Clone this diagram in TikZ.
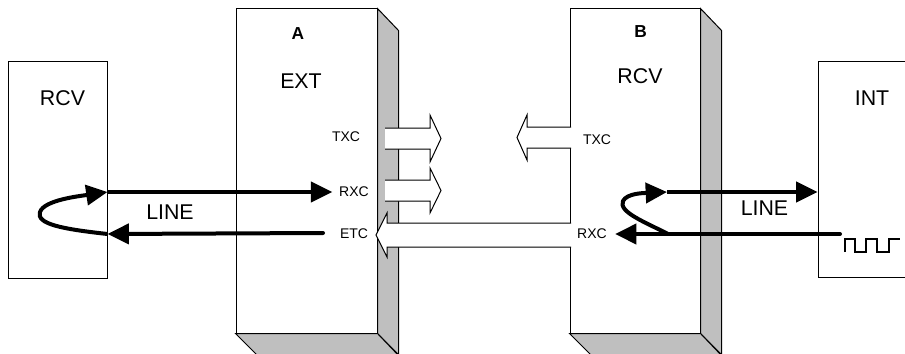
\documentclass[tikz,border=0pt]{standalone}
\usepackage{fontspec}
\setmainfont{Liberation Sans}
\usetikzlibrary{arrows.meta,positioning,calc}

\begin{document}
\begin{tikzpicture}[x=0.75pt, y=-0.75pt,
        block/.style={rectangle, draw, fill=white, line width=0.75pt, inner sep=0pt},
        face/.style={draw, fill=black!25, line width=0.75pt},
        wire/.style={line width=3pt, -{Triangle[length=16pt, width=15pt]}},
        hollow/.style={draw, fill=white, line width=0.75pt},
        big/.style={font=\fontsize{16}{19}\selectfont, inner sep=0pt},
        small/.style={font=\fontsize{10.5}{12}\selectfont, inner sep=0pt},
        unit/.style={font=\fontsize{13}{15}\selectfont\bfseries, inner sep=0pt}]

        \useasboundingbox (0,0) rectangle (905,353);
        \clip (0,0) rectangle (905,353);

        \node[block, minimum width=74.25pt, minimum height=162pt] (left) at (57.5,170) {};
        \node[block, minimum width=105.75pt, minimum height=243pt] (ext) at (306.5,171) {};
        \node[block, minimum width=97.5pt, minimum height=243pt] (rcv) at (635,171) {};
        \node[block, minimum width=87.75pt, minimum height=161.25pt] (int) at (876.5,169.5) {};

        \draw[face] (ext.north east) -- ++(21,22) -- ++(0,324) -- (ext.south east) -- cycle;
        \draw[face] (ext.south west) -- (ext.south east) -- ++(21,22) -- ++(-141,0) -- cycle;
        \draw[face] (rcv.north east) -- ++(21,22) -- ++(0,324) -- (rcv.south east) -- cycle;
        \draw[face] (rcv.south west) -- (rcv.south east) -- ++(21,22) -- ++(-130,0) -- cycle;

        \draw[hollow] (385,128) -- (430,128) -- (430,115) -- (441,138.5) -- (430,162) -- (430,149) -- (385,149);
        \draw[hollow] (385,180) -- (430,180) -- (430,168) -- (441,190.5) -- (430,213) -- (430,201) -- (385,201);
        \draw[hollow] (571,127) -- (527,127) -- (527,115) -- (517,137.5) -- (527,160) -- (527,148) -- (571,148);
        \draw[hollow] (571,223) -- (387,223) -- (387,213) -- (376,235) -- (387,257) -- (387,247) -- (571,247);

        \node[big] (rcvl) at (62.5,98) {RCV};
        \node[unit] (a) at (298,34) {A};
        \node[big] (extl) at (301,81) {EXT};
        \node[unit] (b) at (640.5,32) {B};
        \node[big] (rcvr) at (640,76) {RCV};
        \node[big] (intl) at (872,98) {INT};
        \node[small] (txca) at (346,137) {TXC};
        \node[small] (rxca) at (354,192) {RXC};
        \node[small] (etca) at (354,234) {ETC};
        \node[small] (txcb) at (597,140) {TXC};
        \node[small] (rxcb) at (592,234) {RXC};
        \node[big] (linel) at (170,212) {LINE};
        \node[big] (liner) at (764.5,208) {LINE};

        \coordinate (ltop) at (left.east |- rxca);
        \coordinate (lbot) at (left.east |- etca);
        \coordinate (lend) at (323,233);
        \coordinate (rtop) at (667,192);
        \coordinate (rbot) at (668,234);
        \coordinate (rend) at (840,234);

        \draw[wire] (ltop) -- ([xshift=-5pt]rxca.west);
        \draw[wire, line cap=round] (lend) -- (lbot);
        \draw[wire] (lbot) .. controls (62,229) and (36,224) .. (40,212) .. controls (44,200) and (80,196) .. (ltop);

        \draw[wire] (rtop) -- (int.west |- rtop);
        \draw[wire, line cap=round] (rend) -- ([xshift=6pt]rxcb.east);
        \draw[wire] (rbot) .. controls (645,222) and (618,212) .. (623,201) .. controls (627,193) and (645,193) .. (rtop);

        \draw[line width=1pt] (845,252) -- (845,239) -- (855,239) -- (855,252) -- (866,252) -- (866,239) -- (877,239) -- (877,252) -- (889,252) -- (889,239) -- (900,239);
    \end{tikzpicture}
\end{document}
